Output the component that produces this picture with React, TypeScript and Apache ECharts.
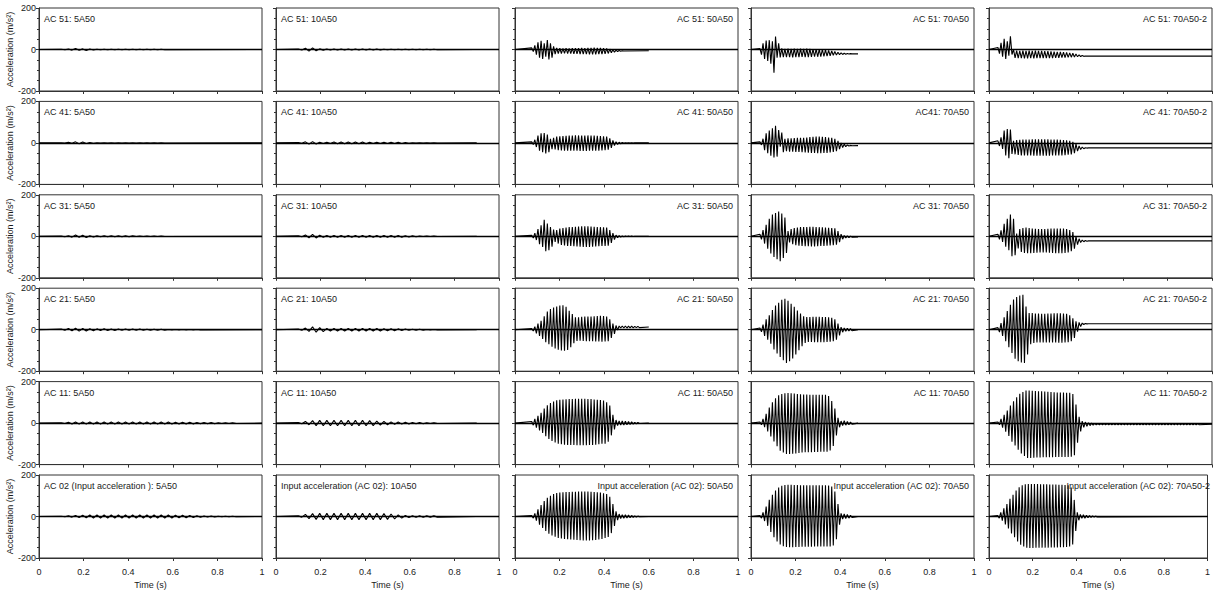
import React, { useEffect, useRef } from "react";
import * as echarts from "echarts";

// ---------------- DATA ----------------
const TIME_MIN = 0;
const TIME_MAX = 1;
const TIME_INTERVAL = 0.2;
const ACC_MIN = -200;
const ACC_MAX = 200;
const ACC_INTERVAL = 200;

// sampling of the digitised peaks (alternating upper / lower peaks)
const SMALL_START = 0.1;   // 5A50, 10A50
const SMALL_STEP = 0.016;
const START_50 = 0.075;    // 50A50
const START_70 = 0.04;     // 70A50, 70A50-2
const DENSE_STEP = 0.007;

const TITLES = [
  ["AC 51: 5A50", "AC 51: 10A50", "AC 51: 50A50", "AC 51: 70A50", "AC 51: 70A50-2"],
  ["AC 41: 5A50", "AC 41: 10A50", "AC 41: 50A50", "AC41: 70A50", "AC 41: 70A50-2"],
  ["AC 31: 5A50", "AC 31: 10A50", "AC 31: 50A50", "AC 31: 70A50", "AC 31: 70A50-2"],
  ["AC 21: 5A50", "AC 21: 10A50", "AC 21: 50A50", "AC 21: 70A50", "AC 21: 70A50-2"],
  ["AC 11: 5A50", "AC 11: 10A50", "AC 11: 50A50", "AC 11: 70A50", "AC 11: 70A50-2"],
  ["AC 02 (Input acceleration ): 5A50", "Input acceleration (AC 02): 10A50", "Input acceleration (AC 02): 50A50", "Input acceleration (AC 02): 70A50", "Input acceleration (AC 02): 70A50-2"],
];

// ---- 5A50 ----
const AC51_5A50 = [1,-1, 2,-3, 5,-4, 3,-5, 2,-2, 1,-1, 1,-1, 1,-1, 1,-1, 1,-1, 1,-1, 1,-1, 1,-1, 1,-1, 1,-1];
const AC41_5A50 = [1,-1, 3,-2, 5,-4, 4,-3, 2,-2, 1,-1, 1,-1, 1,-1, 1,-1, 1,-1, 1,-1, 1,-1, 1,-1, 1,-1, 1,-1];
const AC31_5A50 = [1,-2, 3,-4, 6,-5, 5,-6, 3,-3, 2,-2, 2,-2, 2,-2, 2,-2, 2,-2, 2,-1, 1,-1, 1,-1, 1,-1, 1,-1];
const AC21_5A50 = [3,-3, 6,-5, 7,-7, 6,-6, 5,-5, 4,-4, 4,-4, 3,-4, 3,-3, 3,-3, 3,-3, 3,-3, 2,-2, 2,-2, 2,-2, 1,-1, 1,-1, 1,-1, 1,-1, 1,-1];
const AC11_5A50 = [2,-2, 4,-4, 5,-5, 5,-5, 5,-5, 5,-5, 5,-5, 5,-5, 5,-5, 5,-5, 5,-5, 5,-5, 5,-5, 5,-5, 5,-5, 5,-5, 4,-4, 4,-4, 4,-4, 3,-3, 3,-3, 3,-3, 2,-2, 2,-2, 2,-2];
const AC02_5A50 = [1,-1, 3,-3, 5,-5, 6,-6, 7,-7, 7,-7, 7,-7, 7,-7, 7,-7, 7,-7, 7,-7, 7,-7, 7,-7, 7,-7, 7,-7, 7,-7, 6,-6, 6,-6, 5,-5, 4,-4, 2,-2, 2,-2, 1,-1, 1,-1, 1,-1];

// ---- 10A50 ----
const AC51_10A50 = [2,-2, 6,-8, 8,-6, 3,-3, 2,-2, 2,-2, 2,-2, 2,-2, 2,-2, 2,-2, 2,-2, 2,-2, 1,-1, 1,-1, 1,-1, 1,-1, 1,-1, 1,-1, 1,-1, 1,-1];
const AC41_10A50 = [2,-2, 5,-6, 6,-5, 3,-3, 3,-3, 4,-4, 4,-4, 4,-4, 4,-4, 4,-4, 3,-3, 3,-3, 3,-3, 3,-3, 3,-3, 2,-2, 1,-1, 1,-1, 1,-1, 1,-1];
const AC31_10A50 = [2,-2, 6,-7, 9,-8, 5,-5, 4,-4, 4,-4, 4,-4, 4,-4, 4,-4, 4,-4, 4,-4, 4,-4, 4,-4, 4,-4, 4,-4, 3,-3, 2,-2, 1,-1, 1,-1, 1,-1];
const AC21_10A50 = [3,-3, 8,-8, 14,-12, 10,-9, 6,-6, 6,-6, 6,-6, 6,-6, 6,-6, 6,-6, 6,-6, 6,-6, 5,-5, 5,-5, 4,-4, 3,-3, 2,-2, 2,-2, 1,-1, 1,-1];
const AC11_10A50 = [3,-3, 8,-8, 12,-12, 13,-13, 13,-13, 13,-13, 13,-13, 13,-13, 13,-13, 13,-13, 12,-12, 10,-10, 8,-8, 6,-6, 5,-5, 4,-4, 3,-3, 3,-3, 2,-2, 2,-2];
const AC02_10A50 = [3,-3, 10,-10, 14,-14, 15,-15, 15,-15, 15,-15, 15,-15, 15,-15, 15,-15, 15,-15, 15,-15, 15,-15, 14,-14, 12,-12, 8,-8, 5,-5, 4,-4, 4,-4, 3,-3, 3,-3];

// ---- 50A50 ----
const AC51_50A50 = [
  8,-10, 20,-25, 35,-40, 42,-45, 30,-35,
  45,-48, 30,-40, 15,-22, 8,-20, 6,-20,
  5,-19, 6,-20, 5,-20, 6,-21, 7,-21,
  6,-22, 8,-22, 7,-22, 8,-23, 8,-23,
  9,-23, 8,-22, 8,-22, 7,-21, 5,-19,
  2,-16, -1,-13, -3,-10, -5,-8, -6,-7,
];
const AC41_50A50 = [
  5,-8, 15,-20, 35,-38, 46,-45, 48,-51,
  40,-45, 20,-30, 25,-32, 30,-35, 32,-36,
  33,-37, 34,-38, 35,-38, 35,-38, 36,-38,
  36,-39, 36,-39, 36,-39, 36,-38, 35,-38,
  35,-38, 34,-37, 33,-36, 32,-35, 30,-33,
  22,-24, 12,-13, 6,-7, 3,-4, 2,-2,
  1,-1, 1,-1, 1,-1, 0,0, 0,0,
];
const AC31_50A50 = [
  5,-8, 15,-18, 35,-38, 53,-51, 80,-72,
  61,-67, 45,-50, 32,-27, 30,-35, 37,-42,
  40,-44, 42,-46, 44,-47, 45,-48, 46,-49,
  47,-50, 48,-51, 48,-51, 48,-51, 47,-50,
  46,-49, 45,-48, 44,-47, 43,-46, 42,-45,
  30,-32, 15,-16, 6,-7, 3,-4, 2,-2,
  1,-1, 1,-1, 1,-1, 0,0, 0,0,
];
const AC21_50A50 = [
  5,-6, 15,-18, 30,-30, 43,-45, 65,-60,
  88,-70, 100,-82, 107,-90, 112,-96, 116,-100,
  118,-101, 110,-98, 91,-85, 75,-65, 60,-54,
  60,-53, 62,-54, 63,-55, 64,-56, 64,-56,
  65,-57, 66,-57, 67,-58, 66,-57, 64,-55,
  50,-40, 30,-20, 20,-2, 18,8, 18,8,
  18,8, 17,9, 17,9, 16,10, 16,10,
];
const AC11_50A50 = [
  8,-10, 20,-22, 35,-35, 50,-48, 70,-63,
  86,-76, 97,-86, 104,-93, 110,-99, 113,-102,
  114,-104, 115,-105, 116,-106, 116,-106, 117,-107,
  117,-107, 117,-107, 117,-107, 116,-106, 116,-105,
  114,-104, 113,-102, 111,-100, 109,-99, 100,-90,
  85,-59, 40,-30, 15,-12, 10,-10, 10,-9,
  9,-8, 8,-7, 6,-5, 4,-4, 3,-2,
];
const AC02_50A50 = [
  5,-8, 15,-20, 35,-40, 55,-55, 75,-70,
  90,-83, 100,-92, 108,-98, 113,-103, 116,-106,
  117,-108, 118,-110, 118,-111, 119,-112, 119,-113,
  120,-114, 120,-115, 120,-115, 120,-115, 119,-114,
  118,-113, 117,-111, 115,-108, 112,-104, 108,-99,
  95,-80, 60,-45, 25,-18, 12,-10, 9,-8,
  8,-7, 7,-6, 5,-4, 3,-3, 2,-1,
];

// ---- 70A50 ----
const AC51_70A50 = [
  5,-25, 30,-45, 43,-55, 45,-68, 40,-112,
  62,-40, 30,-38, 5,-37, 3,-37, 4,-37,
  3,-38, 4,-37, 3,-37, 4,-36, 3,-37,
  4,-37, 3,-36, 2,-35, 2,-35, 1,-34,
  0,-33, -2,-32, -4,-30, -7,-28, -10,-27,
  -13,-25, -16,-24, -18,-23, -19,-22, -20,-21,
];
const AC41_70A50 = [
  5,-10, 20,-35, 46,-50, 60,-62, 70,-70,
  83,-66, 62,-18, 50,-45, 20,-40, 22,-42,
  22,-42, 23,-43, 24,-44, 24,-45, 25,-46,
  26,-47, 28,-48, 29,-49, 30,-50, 30,-50,
  29,-49, 28,-48, 26,-46, 24,-44, 20,-40,
  10,-30, 0,-22, -6,-18, -10,-15, -12,-14,
];
const AC31_70A50 = [
  10,-15, 30,-35, 55,-60, 85,-83, 105,-100,
  112,-110, 120,-120, 110,-105, 90,-80, 25,-30,
  35,-38, 40,-43, 42,-45, 44,-47, 45,-48,
  45,-48, 46,-49, 46,-49, 45,-48, 44,-47,
  43,-46, 42,-45, 41,-44, 40,-43, 38,-40,
  25,-28, 10,-14, 4,-8, 2,-6, 0,-4,
];
const AC21_70A50 = [
  8,-10, 25,-30, 50,-48, 70,-68, 95,-95,
  117,-115, 130,-132, 144,-147, 149,-160, 140,-152,
  125,-139, 110,-120, 93,-99, 78,-80, 65,-64,
  61,-59, 61,-59, 62,-60, 62,-60, 62,-60,
  61,-60, 61,-59, 60,-58, 58,-56, 50,-48,
  30,-28, 12,-12, 8,-8, 7,-6, 5,-5,
];
const AC11_70A50 = [
  5,-8, 20,-20, 45,-40, 75,-65, 100,-88,
  120,-112, 134,-133, 140,-142, 144,-149, 145,-149,
  144,-148, 142,-146, 140,-144, 139,-142, 138,-141,
  138,-140, 137,-140, 137,-139, 136,-139, 136,-138,
  136,-138, 136,-138, 130,-132, 107,-110, 70,-60,
  25,-20, 10,-12, 12,-10, 8,-8, 5,-5,
];
const AC02_70A50 = [
  5,-8, 20,-22, 48,-45, 80,-75, 105,-100,
  125,-120, 140,-135, 148,-143, 152,-147, 153,-148,
  153,-148, 152,-147, 152,-147, 151,-146, 151,-146,
  150,-146, 150,-146, 150,-145, 150,-145, 150,-145,
  150,-145, 150,-145, 149,-144, 145,-140, 120,-110,
  60,-40, 15,-12, 12,-10, 10,-8, 6,-5,
];

// ---- 70A50-2 ----
const AC51_70A50_2 = [
  10,-20, 32,-35, 51,-45, 40,-30, 64,-24,
  0,-40, -5,-42, -6,-42, -5,-43, -6,-43,
  -5,-42, -6,-43, -5,-42, -6,-42, -7,-42,
  -8,-41, -8,-41, -9,-41, -10,-40, -11,-40,
  -12,-39, -13,-39, -14,-38, -16,-37, -18,-36,
  -22,-35, -26,-34, -29,-33, -31,-32, -32,-32,
];
const AC41_70A50_2 = [
  10,-15, 27,-29, 59,-61, 67,-74, 64,-53,
  10,-55, 14,-58, 15,-60, 16,-61, 16,-61,
  16,-61, 17,-62, 17,-62, 17,-62, 17,-62,
  17,-62, 17,-62, 16,-61, 16,-61, 16,-60,
  15,-60, 14,-59, 12,-57, 10,-55, 5,-50,
  -5,-40, -15,-32, -20,-28, -23,-25, -24,-24,
];
const AC31_70A50_2 = [
  10,-15, 29,-27, 60,-50, 85,-67, 105,-96,
  85,-91, 13,-59, 35,-75, 40,-80, 42,-82,
  40,-82, 38,-80, 36,-79, 35,-78, 35,-78,
  35,-78, 36,-79, 37,-80, 38,-81, 38,-81,
  38,-81, 37,-80, 35,-78, 30,-72, 20,-60,
  0,-40, -12,-30, -18,-26, -20,-24, -22,-22,
];
const AC21_70A50_2 = [
  10,-12, 32,-30, 60,-55, 90,-85, 120,-112,
  145,-140, 157,-152, 165,-158, 168,-160, 112,-120,
  80,-70, 80,-64, 78,-62, 78,-62, 77,-62,
  77,-61, 78,-62, 78,-62, 79,-62, 79,-63,
  79,-63, 78,-62, 77,-60, 70,-55, 55,-40,
  40,-10, 35,15, 32,25, 30,28, 29,29,
];
const AC11_70A50_2 = [
  5,-8, 20,-22, 40,-42, 60,-62, 85,-90,
  105,-108, 125,-128, 141,-147, 150,-158, 157,-168,
  157,-168, 156,-167, 155,-166, 154,-166, 153,-165,
  152,-165, 151,-164, 150,-164, 149,-163, 148,-163,
  148,-163, 147,-163, 146,-163, 146,-162, 140,-155,
  90,-95, 30,-40, 10,-20, 5,-15, 2,-12,
  0,-10, -1,-9, -2,-8, -2,-8, -2,-8,
  -2,-8, -2,-8, -2,-8, -2,-8, -2,-8,
  -2,-8, -2,-8, -2,-8, -2,-8, -2,-8,
  -2,-8, -2,-8, -2,-8, -2,-8, -2,-8,
  -2,-8, -2,-8, -2,-8, -2,-8, -2,-8,
  -2,-8, -2,-8, -2,-8, -2,-8, -2,-8,
  -2,-8, -2,-8, -2,-8, -2,-8, -2,-8,
];
const AC02_70A50_2 = [
  5,-8, 20,-20, 40,-38, 60,-58, 85,-82,
  105,-100, 125,-120, 141,-136, 150,-145, 155,-150,
  157,-152, 157,-152, 156,-151, 156,-151, 155,-150,
  155,-150, 155,-150, 154,-149, 154,-149, 154,-149,
  153,-148, 153,-148, 152,-147, 150,-145, 140,-135,
  80,-70, 20,-18, 10,-9, 8,-8, 6,-6,
  4,-4, 3,-3, 2,-2,
];

// level the record settles at after the digitised peaks, and where it ends
const TAIL_LEVELS = [
  [0, 0, -6, -21, -32],
  [0, 0, 0, -13, -24],
  [0, 0, 0, -3, -22],
  [0, 0, 13, 0, 29],
  [0, 0, 0, 0, -5],
  [0, 0, 0, 0, 0],
];
const COL_END = [1, 0.9, 0.6, 0.48, 1];
const COL_START = [SMALL_START, SMALL_START, START_50, START_70, START_70];
const COL_STEP = [SMALL_STEP, SMALL_STEP, DENSE_STEP, DENSE_STEP, DENSE_STEP];

const PANEL_VALUES = [
  [AC51_5A50, AC51_10A50, AC51_50A50, AC51_70A50, AC51_70A50_2],
  [AC41_5A50, AC41_10A50, AC41_50A50, AC41_70A50, AC41_70A50_2],
  [AC31_5A50, AC31_10A50, AC31_50A50, AC31_70A50, AC31_70A50_2],
  [AC21_5A50, AC21_10A50, AC21_50A50, AC21_70A50, AC21_70A50_2],
  [AC11_5A50, AC11_10A50, AC11_50A50, AC11_70A50, AC11_70A50_2],
  [AC02_5A50, AC02_10A50, AC02_50A50, AC02_70A50, AC02_70A50_2],
];

// ---------------- LAYOUT ----------------
const GRID_LEFTS = [39, 276, 515, 751, 989];
const GRID_W = 223;
const GRID_H = 83;
const ROW_TOP0 = 8;
const ROW_PITCH = 93.4;
const FONT = '"Liberation Sans", Arial, Helvetica, sans-serif';
const TEXT_COLOR = "#1a1a1a";

function buildSeriesData(values: number[], start: number, step: number, end: number, tail: number) {
  const pts: number[][] = [[0, 0]];
  values.forEach((v, i) => pts.push([Math.round((start + i * step) * 10000) / 10000, v]));
  const lastT = start + (values.length - 1) * step;
  if (end > lastT) pts.push([end, tail]);
  return pts;
}

function buildOption() {
  const grid: any[] = [];
  const xAxis: any[] = [];
  const yAxis: any[] = [];
  const series: any[] = [];
  const graphic: any[] = [];
  for (let r = 0; r < 6; r++) {
    for (let c = 0; c < 5; c++) {
      const k = r * 5 + c;
      const left = GRID_LEFTS[c];
      const top = ROW_TOP0 + r * ROW_PITCH;
      grid.push({ left, top, width: GRID_W, height: GRID_H, show: true, borderColor: "#333", borderWidth: 1, containLabel: false });
      const bottomRow = r === 5;
      xAxis.push({
        type: "value", gridIndex: k, min: TIME_MIN, max: TIME_MAX, interval: TIME_INTERVAL,
        axisLine: { show: true, onZero: false, lineStyle: { color: "#333", width: 1 } },
        axisTick: { show: true, inside: false, length: 3, lineStyle: { color: "#333" } },
        axisLabel: { show: bottomRow, fontSize: 9, color: TEXT_COLOR, margin: 9, fontFamily: FONT },
        splitLine: { show: false },
        name: bottomRow ? "Time (s)" : "", nameLocation: "middle", nameGap: 22,
        nameTextStyle: { fontSize: 9, color: TEXT_COLOR, fontFamily: FONT },
      });
      yAxis.push({
        type: "value", gridIndex: k, min: ACC_MIN, max: ACC_MAX, interval: ACC_INTERVAL,
        axisLine: { show: true, onZero: false, lineStyle: { color: "#333", width: 1 } },
        axisTick: { show: true, inside: false, length: 3, lineStyle: { color: "#333" } },
        minorTick: { show: true, splitNumber: 4, length: 2, lineStyle: { color: "#333" } },
        axisLabel: { show: c === 0, fontSize: 9, color: TEXT_COLOR, margin: 3, fontFamily: FONT },
        splitLine: { show: false },
        minorSplitLine: { show: false },
        name: c === 0 ? "Acceleration (m/s\u00B2)" : "", nameLocation: "middle", nameGap: 21, nameRotate: 90,
        nameTextStyle: { fontSize: 9, color: TEXT_COLOR, fontFamily: FONT },
      });
      series.push({
        type: "line", xAxisIndex: k, yAxisIndex: k, symbol: "none", showSymbol: false,
        data: buildSeriesData(PANEL_VALUES[r][c], COL_START[c], COL_STEP[c], COL_END[c], TAIL_LEVELS[r][c]),
        lineStyle: { color: "#000", width: 1.1, join: "bevel" },
        silent: true,
        markLine: {
          silent: true, symbol: "none", label: { show: false },
          lineStyle: { color: "#000", width: 1.3, type: "solid" },
          data: [{ yAxis: 0 }],
        },
      });
      const rightAligned = c >= 2;
      const offset = r === 5 && c === 4 ? 2 : 5;
      graphic.push({
        type: "text", silent: true, z: 10,
        x: rightAligned ? left + GRID_W - offset : left + offset,
        y: top + 11,
        style: { text: TITLES[r][c], fill: TEXT_COLOR, font: `9px ${FONT}`, textAlign: rightAligned ? "right" : "left", textVerticalAlign: "middle" },
      });
    }
  }
  return { animation: false, backgroundColor: "#fff", grid, xAxis, yAxis, series, graphic };
}

export default function App() {
  const ref = useRef<HTMLDivElement>(null);
  useEffect(() => {
    if (!ref.current) return;
    const chart = echarts.init(ref.current, undefined, { renderer: "svg" });
    chart.setOption(buildOption() as any);
    return () => chart.dispose();
  }, []);
  return <div ref={ref} style={{ position: "absolute", left: 0, top: 0, width: 1213, height: 597 }} />;
}
